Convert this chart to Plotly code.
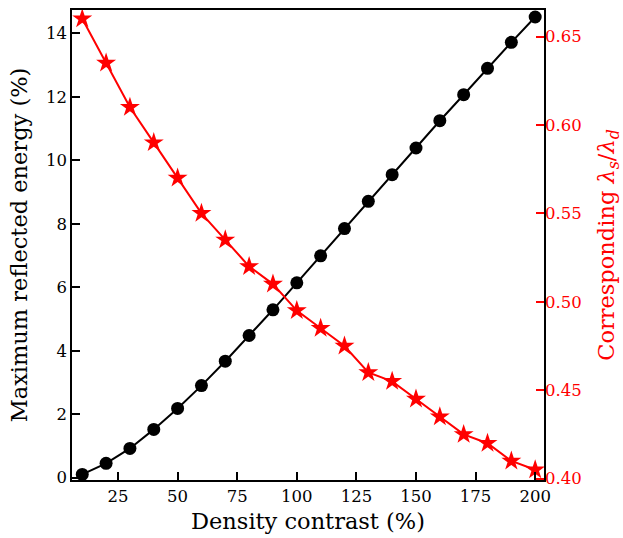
import plotly.graph_objects as go

density = [10, 20, 30, 40, 50, 60, 70, 80, 90, 100, 110, 120, 130, 140, 150, 160, 170, 180, 190, 200]
energy = [0.10, 0.45, 0.92, 1.52, 2.18, 2.90, 3.67, 4.48, 5.29, 6.14, 6.99, 7.85, 8.71, 9.55, 10.39, 11.25, 12.07, 12.90, 13.72, 14.52]
ratio = [0.660, 0.635, 0.610, 0.590, 0.570, 0.550, 0.535, 0.520, 0.510, 0.495, 0.485, 0.475, 0.460, 0.455, 0.445, 0.435, 0.425, 0.420, 0.410, 0.405]

font = "DejaVu Serif"
tick_size = 16.5
title_size = 22.5

fig = go.Figure()
fig.add_trace(go.Scatter(x=density, y=energy, mode="lines+markers",
                         line=dict(color="black", width=2),
                         marker=dict(symbol="circle", size=13, color="black"),
                         showlegend=False))
fig.add_trace(go.Scatter(x=density, y=ratio, mode="lines+markers", yaxis="y2",
                         line=dict(color="red", width=2),
                         marker=dict(symbol="star", size=15, color="red"),
                         showlegend=False))

fig.update_layout(
    width=623, height=538,
    margin=dict(l=72, r=76, t=8, b=58),
    plot_bgcolor="white", paper_bgcolor="white",
    font=dict(family=font, size=tick_size, color="black"),
    xaxis=dict(range=[5.7, 203.7], tickvals=[25, 50, 75, 100, 125, 150, 175, 200],
               ticks="inside", ticklen=8, tickwidth=1.5, tickcolor="black",
               tickfont=dict(family=font, size=tick_size, color="black"),
               showline=True, linecolor="black", linewidth=1.5, mirror=True,
               showgrid=False, zeroline=False,
               title=dict(text="Density contrast (%)",
                          font=dict(family=font, size=title_size, color="black"), standoff=9)),
    yaxis=dict(range=[-0.075, 14.74], tickvals=[0, 2, 4, 6, 8, 10, 12, 14],
               ticks="inside", ticklen=8, tickwidth=1.5, tickcolor="black",
               tickfont=dict(family=font, size=tick_size, color="black"),
               showline=True, linecolor="black", linewidth=1.5, mirror=True,
               showgrid=False, zeroline=False,
               title=dict(text="Maximum reflected energy (%)",
                          font=dict(family=font, size=title_size, color="black"), standoff=12)),
    yaxis2=dict(range=[0.3992, 0.665], tickvals=[0.40, 0.45, 0.50, 0.55, 0.60, 0.65],
                tickformat=".2f", overlaying="y", side="right",
                ticks="inside", ticklen=8, tickwidth=1.5, tickcolor="red",
                tickfont=dict(family=font, size=tick_size, color="red"), showline=False,
                showgrid=False, zeroline=False,
                title=dict(text="Corresponding <i>λ<sub>s</sub></i>/<i>λ<sub>d</sub></i>",
                           font=dict(family=font, size=title_size, color="red"), standoff=17)),
)

fig.write_html("out.html")
